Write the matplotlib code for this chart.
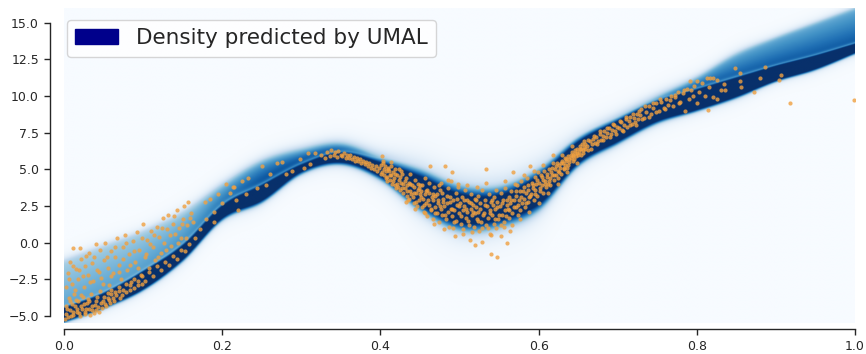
import numpy as np
import matplotlib
matplotlib.use("Agg")
import matplotlib.pyplot as plt
import seaborn as sns
from matplotlib.patches import Patch

sns.set_style("ticks")
plt.rcParams["font.family"] = ["DejaVu Sans"]

# ---------------------------------------------------------------------------
# Predicted conditional density, described at evenly spaced x positions
# ---------------------------------------------------------------------------
knot_x = [0.00, 0.05, 0.10, 0.15, 0.20, 0.25, 0.30, 0.35, 0.40, 0.45, 0.50,
          0.55, 0.60, 0.65, 0.70, 0.75, 0.80, 0.85, 0.90, 0.95, 1.00]
# lower / upper edge of the high-density core
core_low = [-5.4, -4.45, -3.2, -1.2, 1.6, 2.8, 4.75, 5.4, 4.4, 2.4, 1.1,
            1.3, 2.4, 5.3, 6.8, 8.2, 9.0, 9.9, 11.0, 11.8, 12.9]
core_high = [-4.4, -3.4, -1.9, -0.1, 2.6, 4.0, 5.4, 6.2, 5.6, 4.75, 3.6,
             3.5, 4.75, 7.0, 8.4, 9.7, 10.5, 11.3, 12.1, 12.8, 13.6]
# top of the lower-density spread above the core
spread_top = [-1.2, -0.2, 0.8, 2.1, 4.0, 5.6, 6.4, 6.8, 5.9, 4.9, 3.8,
              3.7, 4.9, 7.1, 8.6, 10.0, 11.3, 12.9, 14.0, 15.0, 16.0]
# density level of that spread (fraction of the core level)
spread_level = [0.38, 0.40, 0.42, 0.48, 0.62, 0.78, 0.82, 0.85, 0.85, 0.85, 0.85,
                0.85, 0.85, 0.85, 0.85, 0.78, 0.72, 0.70, 0.70, 0.70, 0.70]
# softness of the band edges and extent of the faint tails
edge_soft = [0.15, 0.15, 0.15, 0.18, 0.20, 0.20, 0.20, 0.20, 0.28, 0.45, 0.55,
             0.55, 0.45, 0.28, 0.22, 0.20, 0.15, 0.15, 0.12, 0.12, 0.12]
tail_len = [0.35, 0.35, 0.35, 0.40, 0.40, 0.40, 0.40, 0.45, 0.60, 0.95, 1.05,
            1.05, 0.95, 0.60, 0.45, 0.40, 0.35, 0.35, 0.30, 0.30, 0.30]

# ---------------------------------------------------------------------------
# Observed samples (x, y)
# ---------------------------------------------------------------------------
obs_left_bottom = [
    (0.002, -4.9), (0.005, -5.1), (0.008, -4.6), (0.010, -4.2), (0.012, -4.95),
    (0.015, -3.9), (0.017, -4.5), (0.020, -5.0), (0.022, -4.3), (0.024, -3.7),
    (0.027, -4.7), (0.029, -4.1), (0.031, -4.55), (0.034, -3.5), (0.036, -4.35),
    (0.038, -4.8), (0.040, -3.95), (0.043, -4.4), (0.045, -3.3), (0.047, -4.1),
    (0.050, -3.7), (0.052, -4.2), (0.055, -3.45), (0.057, -3.9), (0.060, -3.2),
    (0.062, -3.75), (0.003, -4.3), (0.006, -3.8), (0.013, -3.5), (0.018, -4.0),
    (0.026, -4.9), (0.033, -4.95), (0.041, -4.6), (0.001, -5.2), (0.009, -5.0),
    (0.016, -4.75), (0.023, -4.55), (0.030, -3.85), (0.048, -4.45), (0.058, -4.1),
    (0.004, -4.5), (0.007, -4.0), (0.011, -4.7), (0.014, -4.3), (0.019, -4.8),
    (0.021, -3.6), (0.025, -4.2), (0.028, -4.5), (0.032, -4.0), (0.035, -4.6),
    (0.039, -4.25), (0.042, -3.7), (0.044, -4.7), (0.049, -3.95), (0.053, -4.35),
    (0.056, -3.8), (0.059, -3.5), (0.063, -4.0), (0.066, -3.6), (0.069, -3.3),
    (0.071, -3.8), (0.074, -3.2), (0.079, -3.4), (0.084, -2.9), (0.089, -3.1),
    (0.094, -2.6), (0.099, -2.8),
]
obs_left_spread = [
    (0.005, -2.1), (0.008, -1.3), (0.010, -2.8), (0.012, -0.4), (0.015, -1.8),
    (0.018, -2.5), (0.020, -0.35), (0.022, -1.1), (0.025, -3.0), (0.027, -1.6),
    (0.030, -2.2), (0.032, -0.7), (0.035, -1.4), (0.037, -2.6), (0.040, -0.1),
    (0.042, -1.9), (0.045, -0.5), (0.047, -2.4), (0.050, -1.2), (0.052, -0.05),
    (0.055, -1.7), (0.057, -2.9), (0.060, -0.6), (0.062, -2.1), (0.065, -1.0),
    (0.067, 0.3), (0.070, -1.5), (0.072, -2.5), (0.075, -0.3), (0.077, 0.5),
    (0.080, -1.9), (0.082, -0.8), (0.085, -2.7), (0.087, 0.1), (0.090, -1.3),
    (0.092, 0.7), (0.095, -0.5), (0.097, -2.2), (0.100, 1.3), (0.102, -1.0),
    (0.105, 0.2), (0.107, -1.7), (0.110, 0.8), (0.112, -0.3), (0.115, -1.2),
    (0.117, 1.1), (0.120, 0.4), (0.122, -0.7), (0.125, 1.7), (0.127, 0.0),
    (0.130, 0.9), (0.132, 1.9), (0.135, -0.2), (0.138, 1.3), (0.140, 0.6),
    (0.143, 2.2), (0.145, 1.0), (0.148, 0.3), (0.150, 1.6), (0.152, 2.5),
    (0.155, 1.2), (0.157, 2.8), (0.160, 2.0), (0.163, 1.4),
    (0.003, -3.0), (0.006, -2.5), (0.011, -1.6), (0.014, -3.2), (0.019, -1.9),
    (0.024, -2.3), (0.028, -0.9), (0.033, -2.7), (0.038, -1.0), (0.044, -2.0),
    (0.049, -2.8), (0.054, -1.0), (0.059, -2.3), (0.064, -0.3), (0.069, -2.0),
    (0.074, -1.1), (0.079, 0.0), (0.084, -1.5), (0.089, -0.6), (0.094, -1.7),
    (0.099, 0.3), (0.104, -0.8), (0.109, -0.1), (0.114, 0.5), (0.119, -1.0),
    (0.124, 1.0), (0.129, -0.5), (0.134, 0.5), (0.139, 1.8), (0.144, 0.0),
    (0.149, 1.3), (0.154, 0.3), (0.159, 1.7),
]
obs_left_core = [
    (0.065, -3.4), (0.070, -3.0), (0.073, -3.55), (0.078, -2.8), (0.083, -3.2),
    (0.088, -2.5), (0.093, -2.9), (0.098, -2.3), (0.103, -2.6), (0.108, -2.0),
    (0.113, -2.3), (0.118, -1.6), (0.123, -1.9), (0.128, -1.3), (0.133, -1.5),
    (0.138, -0.9), (0.143, -1.1), (0.148, -0.5), (0.153, -0.6), (0.158, -0.1),
    (0.165, 0.3), (0.172, 0.9), (0.180, 1.6), (0.190, 2.1), (0.200, 2.7),
    (0.205, 4.0), (0.210, 3.4), (0.215, 3.8), (0.218, 2.9), (0.225, 4.2),
    (0.230, 3.3),
]
obs_rise = [
    (0.178, 2.8), (0.185, 3.0), (0.190, 1.4), (0.195, 3.3), (0.214, 3.8),
    (0.220, 2.2), (0.232, 4.4), (0.244, 3.7), (0.250, 5.2), (0.256, 3.9),
    (0.260, 4.7), (0.269, 5.4), (0.275, 5.5), (0.281, 4.7), (0.288, 4.9),
    (0.298, 5.7), (0.303, 5.1), (0.309, 6.1), (0.311, 5.35), (0.317, 6.1),
    (0.325, 6.0), (0.330, 5.8), (0.333, 6.2), (0.336, 5.9), (0.338, 6.3),
    (0.341, 6.0), (0.343, 6.15), (0.345, 5.85), (0.347, 6.25), (0.350, 6.0),
    (0.352, 5.9), (0.354, 6.1), (0.356, 5.8), (0.358, 6.0), (0.360, 5.75),
    (0.362, 5.95), (0.364, 5.7), (0.366, 5.85), (0.368, 5.6), (0.370, 5.8),
    (0.372, 5.55), (0.374, 5.7), (0.376, 5.45), (0.378, 5.6), (0.380, 5.35),
    (0.382, 5.5), (0.384, 5.2), (0.386, 5.4), (0.388, 5.1), (0.390, 5.3),
    (0.392, 5.0), (0.394, 5.2), (0.396, 4.9), (0.398, 5.1),
]
obs_valley = [
    (0.401, 5.3), (0.402, 4.8), (0.403, 5.6), (0.404, 5.0), (0.405, 4.6),
    (0.406, 5.2), (0.407, 4.9), (0.408, 4.5), (0.409, 5.1),
    (0.411, 4.9), (0.412, 4.3), (0.413, 5.2), (0.414, 4.6), (0.415, 4.0),
    (0.416, 4.8), (0.417, 4.4), (0.418, 3.9), (0.419, 4.7),
    (0.421, 4.6), (0.422, 3.8), (0.423, 4.3), (0.424, 5.0), (0.425, 3.6),
    (0.426, 4.1), (0.427, 4.7), (0.428, 3.4), (0.429, 4.0),
    (0.431, 3.7), (0.432, 4.4), (0.433, 3.2), (0.434, 3.9), (0.435, 2.9),
    (0.436, 4.1), (0.437, 3.5), (0.438, 4.7), (0.439, 3.3),
    (0.441, 3.1), (0.442, 3.8), (0.443, 2.7), (0.444, 4.3), (0.445, 3.4),
    (0.446, 2.5), (0.447, 3.6), (0.448, 4.0), (0.449, 2.9), (0.4495, 3.3),
    (0.451, 3.5), (0.452, 2.4), (0.453, 3.9), (0.454, 3.0), (0.455, 2.1),
    (0.456, 3.3), (0.457, 4.4), (0.458, 2.7), (0.459, 3.6), (0.4595, 1.8),
    (0.461, 2.6), (0.462, 3.4), (0.463, 5.2), (0.464, 2.2), (0.465, 3.1),
    (0.466, 1.6), (0.467, 2.9), (0.468, 3.8), (0.469, 2.4), (0.4695, 3.2),
    (0.471, 2.0), (0.472, 3.3), (0.473, 2.7), (0.474, 1.4), (0.475, 3.6),
    (0.476, 2.3), (0.477, 4.1), (0.478, 1.9), (0.479, 2.8), (0.4795, 3.0),
    (0.481, 2.5), (0.482, 5.2), (0.483, 1.6), (0.484, 3.2), (0.485, 2.1),
    (0.486, 3.7), (0.487, 1.1), (0.488, 2.8), (0.489, 2.3), (0.4895, 4.2),
    (0.490, 4.85), (0.491, 1.8), (0.492, 2.9), (0.493, 2.2), (0.494, 0.45),
    (0.495, 3.4), (0.496, 1.5), (0.497, 2.6), (0.498, 3.8), (0.499, 2.0),
    (0.501, 2.7), (0.502, 1.3), (0.503, 3.1), (0.504, 2.2), (0.505, 0.9),
    (0.506, 2.5), (0.507, 3.6), (0.508, 1.7), (0.509, 2.9), (0.5095, 2.1),
    (0.511, 1.5), (0.512, 2.8), (0.513, 0.2), (0.514, 2.3), (0.515, 3.3),
    (0.516, 1.9), (0.517, 2.6), (0.518, 1.1), (0.519, 3.0), (0.5195, 2.0),
    (0.520, -0.15), (0.521, 2.4), (0.522, 1.6), (0.523, 3.2), (0.524, 2.1),
    (0.525, 0.8), (0.526, 2.7), (0.527, 1.4), (0.528, 0.07), (0.529, 3.6),
    (0.531, 2.0), (0.532, 2.9), (0.533, 1.2), (0.534, 5.0), (0.535, 2.5),
    (0.536, 1.7), (0.537, 3.3), (0.538, 0.6), (0.539, 2.2), (0.5395, 2.8),
    (0.540, -0.8), (0.541, 1.9), (0.542, 2.6), (0.543, 1.3), (0.544, 3.1),
    (0.545, 2.3), (0.546, 1.0), (0.547, -1.0), (0.548, 2.8), (0.549, 1.6),
    (0.551, 2.5), (0.552, 3.4), (0.553, 0.45), (0.554, 1.9), (0.555, 2.9),
    (0.556, 1.4), (0.557, 2.2), (0.558, 3.7), (0.559, 1.8), (0.5595, 2.6),
    (0.560, -0.04), (0.561, 2.3), (0.562, 3.1), (0.563, 1.7), (0.564, 2.7),
    (0.565, 3.5), (0.566, 2.0), (0.567, 1.2), (0.568, 4.85), (0.569, 2.9),
    (0.571, 3.2), (0.572, 2.4), (0.573, 3.9), (0.574, 1.9), (0.575, 2.9),
    (0.576, 3.5), (0.577, 2.2), (0.578, 4.2), (0.579, 2.7),
    (0.581, 3.0), (0.582, 3.8), (0.583, 2.4), (0.584, 3.4), (0.585, 4.4),
    (0.586, 2.8), (0.587, 3.6), (0.588, 3.1), (0.589, 5.2),
    (0.591, 3.3), (0.592, 4.1), (0.593, 3.7), (0.594, 2.9), (0.595, 4.5),
    (0.596, 3.6), (0.597, 4.0), (0.598, 3.2), (0.599, 4.8),
    (0.601, 4.1), (0.602, 3.5), (0.603, 4.6), (0.604, 3.9), (0.605, 4.3),
    (0.606, 3.4), (0.607, 4.9), (0.608, 4.2), (0.609, 3.8),
    (0.611, 4.5), (0.612, 4.0), (0.613, 5.0), (0.614, 4.4), (0.615, 3.9),
    (0.616, 4.8), (0.617, 4.6), (0.618, 6.0), (0.619, 4.3),
    (0.621, 5.0), (0.622, 4.6), (0.623, 5.4), (0.624, 4.9), (0.625, 4.4),
    (0.626, 5.3), (0.627, 5.1), (0.628, 4.7), (0.629, 5.6),
    (0.631, 5.4), (0.632, 5.0), (0.633, 5.8), (0.634, 5.3), (0.635, 5.6),
    (0.636, 5.1), (0.637, 5.9), (0.638, 5.5), (0.639, 5.7),
    (0.641, 5.8), (0.642, 6.2), (0.643, 5.6), (0.644, 6.0), (0.645, 5.7),
    (0.646, 6.3), (0.647, 5.9), (0.648, 6.1), (0.649, 6.4),
    (0.651, 6.2), (0.652, 6.6), (0.653, 6.0), (0.654, 6.4), (0.655, 6.7),
    (0.656, 6.3), (0.657, 6.5), (0.658, 6.9), (0.659, 6.4),
    (0.4005, 4.7), (0.4035, 5.4), (0.4065, 4.4), (0.4095, 5.0), (0.4125, 4.6),
    (0.4155, 4.2), (0.4185, 5.0), (0.4215, 4.0), (0.4245, 4.5), (0.4275, 3.7),
    (0.4305, 4.2), (0.4335, 3.5), (0.4365, 3.0), (0.4395, 3.9), (0.4425, 3.4),
    (0.4455, 2.8), (0.4485, 3.7), (0.4515, 3.1), (0.4545, 2.6), (0.4575, 3.5),
    (0.4605, 2.9), (0.4635, 2.3), (0.4665, 3.3), (0.4695, 2.0), (0.4725, 2.9),
    (0.4755, 2.5), (0.4785, 3.4), (0.4815, 1.9), (0.4845, 2.7), (0.4875, 3.1),
    (0.4905, 2.3), (0.4935, 1.4), (0.4965, 3.0), (0.4995, 2.5), (0.5025, 1.8),
    (0.5055, 2.9), (0.5085, 2.3), (0.5115, 1.2), (0.5145, 2.7), (0.5175, 2.1),
    (0.5205, 2.9), (0.5235, 1.5), (0.5265, 2.3), (0.5295, 1.9), (0.5325, 2.6),
    (0.5355, 1.0), (0.5385, 2.0), (0.5415, 2.9), (0.5445, 1.6), (0.5475, 2.4),
    (0.5505, 1.9), (0.5535, 2.7), (0.5565, 1.1), (0.5595, 2.9), (0.5625, 2.2),
    (0.5655, 2.9), (0.5685, 2.4), (0.5715, 3.5), (0.5745, 2.6), (0.5775, 3.1),
    (0.5805, 3.5), (0.5835, 2.7), (0.5865, 3.9), (0.5895, 3.2), (0.5925, 3.9),
    (0.5955, 3.3), (0.5985, 4.3), (0.6015, 3.7), (0.6045, 4.5), (0.6075, 4.0),
    (0.6105, 4.7), (0.6135, 4.2), (0.6165, 5.1), (0.6195, 4.6), (0.6225, 5.2),
    (0.6255, 4.8), (0.6285, 5.4), (0.6315, 5.1), (0.6345, 5.7), (0.6375, 5.3),
    (0.6405, 6.0), (0.6435, 5.9), (0.6465, 6.1), (0.6495, 6.0), (0.6525, 6.4),
    (0.6555, 6.1), (0.6585, 6.7),
    (0.402, 5.9), (0.408, 4.2), (0.414, 5.5), (0.420, 3.7), (0.426, 4.9),
    (0.432, 2.8), (0.438, 4.0), (0.444, 2.3), (0.450, 3.9), (0.456, 2.0),
    (0.462, 4.1), (0.468, 1.3), (0.474, 3.9), (0.480, 0.9), (0.486, 4.3),
    (0.492, 1.0), (0.498, 4.0), (0.504, 0.6), (0.510, 3.9), (0.516, 0.7),
    (0.522, 3.8), (0.528, 1.0), (0.534, 4.1), (0.540, 0.5), (0.546, 3.6),
    (0.552, 1.2), (0.558, 4.2), (0.564, 0.8), (0.570, 4.0), (0.576, 1.6),
    (0.582, 4.6), (0.588, 2.1), (0.594, 4.9), (0.600, 2.7), (0.606, 5.3),
    (0.612, 3.4), (0.618, 5.4), (0.624, 4.0), (0.630, 6.0), (0.636, 4.8),
    (0.642, 6.6), (0.648, 5.4),
]
obs_upper = [
    (0.661, 6.6), (0.663, 6.3), (0.665, 6.9), (0.667, 6.7), (0.669, 7.1),
    (0.671, 6.8), (0.673, 7.2), (0.675, 6.9), (0.677, 7.4), (0.679, 7.0),
    (0.681, 7.3), (0.683, 7.6), (0.685, 7.2), (0.687, 7.5), (0.689, 7.8),
    (0.691, 7.4), (0.693, 7.7), (0.695, 8.0), (0.697, 7.6), (0.699, 7.9),
    (0.702, 7.8), (0.704, 8.2), (0.706, 7.7), (0.708, 8.0), (0.710, 8.4),
    (0.712, 7.9), (0.714, 8.3), (0.716, 8.6), (0.718, 8.1), (0.720, 8.5),
    (0.722, 8.2), (0.724, 8.8), (0.726, 8.4), (0.728, 8.7), (0.730, 9.1),
    (0.733, 8.5), (0.736, 8.9), (0.739, 9.3), (0.742, 8.8), (0.745, 9.2),
    (0.748, 9.5), (0.752, 9.0), (0.755, 9.6), (0.758, 9.2), (0.761, 9.8),
    (0.764, 9.4), (0.767, 10.0), (0.770, 9.3), (0.773, 9.9), (0.776, 10.3),
    (0.779, 9.6), (0.782, 10.2), (0.785, 9.0), (0.788, 10.5), (0.790, 9.8),
    (0.791, 11.0), (0.793, 10.4), (0.797, 10.7), (0.800, 9.5), (0.800, 11.0),
    (0.803, 10.3), (0.807, 10.9), (0.810, 10.0), (0.813, 11.2), (0.814, 9.05),
    (0.815, 10.6), (0.817, 11.2), (0.820, 9.9), (0.820, 11.2), (0.825, 11.1),
    (0.825, 9.8), (0.830, 10.4), (0.835, 10.8), (0.836, 10.4), (0.848, 11.9),
    (0.855, 11.55), (0.855, 11.0), (0.856, 10.6), (0.872, 10.3), (0.880, 11.2),
    (0.886, 12.0), (0.904, 11.1), (0.907, 11.4), (0.918, 9.55), (0.999, 9.75),
    (0.662, 7.0), (0.666, 6.4), (0.670, 7.3), (0.674, 6.7), (0.678, 7.6),
    (0.682, 7.0), (0.686, 7.8), (0.690, 7.2), (0.694, 8.1), (0.698, 7.4),
    (0.703, 8.3), (0.707, 7.6), (0.711, 8.6), (0.715, 8.0), (0.719, 8.8),
    (0.723, 8.0), (0.727, 9.0), (0.731, 8.4), (0.735, 9.3), (0.740, 8.6),
    (0.744, 9.5), (0.749, 8.9), (0.754, 9.8), (0.760, 9.1), (0.766, 9.7),
    (0.772, 10.1), (0.778, 9.5), (0.784, 10.4), (0.795, 10.0),
]


def smooth_interp(xq, xk, yk):
    """Catmull-Rom curve through evenly spaced knots."""
    xk = np.asarray(xk, float)
    yk = np.asarray(yk, float)
    yp = np.concatenate([[2 * yk[0] - yk[1]], yk, [2 * yk[-1] - yk[-2]]])
    h = xk[1] - xk[0]
    t = (xq - xk[0]) / h
    i = np.clip(np.floor(t).astype(int), 0, len(yk) - 2)
    u = t - i
    p0, p1, p2, p3 = yp[i], yp[i + 1], yp[i + 2], yp[i + 3]
    return 0.5 * (2 * p1 + (-p0 + p2) * u
                  + (2 * p0 - 5 * p1 + 4 * p2 - p3) * u ** 2
                  + (-p0 + 3 * p1 - 3 * p2 + p3) * u ** 3)


y_min, y_max = -5.46, 16.0
gx = np.linspace(0, 1, 800)
gy = np.linspace(y_min, y_max, 700)
X, Y = np.meshgrid(gx, gy)

lo = smooth_interp(gx, knot_x, core_low)[None, :]
hi = smooth_interp(gx, knot_x, core_high)[None, :]
top = smooth_interp(gx, knot_x, spread_top)[None, :]
lev = smooth_interp(gx, knot_x, spread_level)[None, :]
soft = smooth_interp(gx, knot_x, edge_soft)[None, :]
tail = smooth_interp(gx, knot_x, tail_len)[None, :]

core = 0.5 * (np.tanh((Y - lo) / soft) - np.tanh((Y - hi) / soft))
band = 0.5 * (np.tanh((Y - hi) / soft) - np.tanh((Y - top) / (1.6 * soft)))
frac = np.clip((Y - hi) / np.maximum(top - hi, 1e-3), 0, 1)
spread = band * lev * (1 - 0.5 * frac)
dist = np.maximum(np.maximum(lo - Y, Y - top), 0)
halo = 0.16 * np.exp(-dist / tail)
density = np.clip(np.maximum(core * 1.15, spread) + halo, 0, 1)

fig = plt.figure(figsize=(8.66, 3.54), dpi=100)
ax = fig.add_axes([64 / 866, 31.3 / 354, 791 / 866, 314.7 / 354])

ax.imshow(density, cmap="Blues", vmin=0, vmax=1, origin="lower",
          extent=[0, 1, y_min, y_max], aspect="auto", interpolation="bilinear",
          zorder=1)

samples = np.array(obs_left_bottom + obs_left_spread + obs_left_core
                   + obs_rise + obs_valley + obs_upper)
ax.scatter(samples[:, 0], samples[:, 1], s=9, color="#f0a040", alpha=0.8,
           linewidths=0, zorder=3)

ax.set_xlim(0, 1)
ax.set_ylim(y_min, y_max)
ax.set_xticks([0.0, 0.2, 0.4, 0.6, 0.8, 1.0])
ax.set_yticks([-5.0, -2.5, 0.0, 2.5, 5.0, 7.5, 10.0, 12.5, 15.0])
ax.tick_params(labelsize=9, length=4.5, width=1, colors="#262626")

for side in ("top", "right"):
    ax.spines[side].set_visible(False)
ax.spines["left"].set_position(("outward", 10))
ax.spines["bottom"].set_position(("outward", 4.75))
ax.spines["left"].set_bounds(-5.0, 15.0)
ax.spines["bottom"].set_bounds(0.0, 1.0)
for side in ("left", "bottom"):
    ax.spines[side].set_color("#262626")
    ax.spines[side].set_linewidth(1.0)

ax.legend(handles=[Patch(color="#00008b", label="Density predicted by UMAL")],
          loc="upper left", bbox_to_anchor=(0.0034, 0.963), borderaxespad=0,
          fontsize=15.5)

fig.savefig("out.png", dpi=100)
